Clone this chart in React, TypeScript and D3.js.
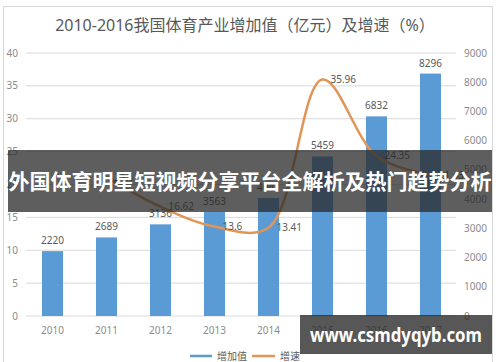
import * as d3 from 'd3'

const years = ['2010', '2011', '2012', '2013', '2014', '2015', '2016', '2017']
const addedValue = [2220, 2689, 3136, 3563, 4041, 5459, 6832, 8296]
const growthRate: (number | null)[] = [null, 21.13, 16.62, 13.6, 13.41, 35.96, 24.35, 21.43]
const leftTicks = [0, 5, 10, 15, 20, 25, 30, 35, 40]
const rightTicks = [0, 1000, 2000, 3000, 4000, 5000, 6000, 7000, 8000, 9000]

const title = '2010-2016我国体育产业增加值（亿元）及增速（%）'
const bannerText = '外国体育明星短视频分享平台全解析及热门趋势分析'
const siteText = 'www.csmdyqyb.com'

const W = 500
const H = 362
const BAR = '#5b9bd5'
const LINE = '#df9656'
const FONT = '"Noto Sans", "Noto Sans CJK SC", sans-serif'

export default function App() {
  const x = d3.scaleBand<string>().domain(years).range([25.5, 457.5]).paddingInner(0.61).paddingOuter(0.305)
  const yL = d3.scaleLinear().domain([0, 40]).range([316, 53])
  const yR = d3.scaleLinear().domain([0, 9000]).range([316, 53])
  const cx = (y: string) => (x(y) ?? 0) + x.bandwidth() / 2

  const pts = years
    .map((y, i) => ({ y, v: growthRate[i] }))
    .filter(d => d.v !== null) as { y: string; v: number }[]

  // excel-style smoothed line
  const line = d3.line<{ y: string; v: number }>()
    .x(d => cx(d.y))
    .y(d => yL(d.v))
    .curve(d3.curveCatmullRom.alpha(0.5))

  return (
    <svg width={W} height={H} style={{ position: 'absolute', left: 0, top: 0 }} fontFamily={FONT}>
      <rect x={0} y={0} width={W} height={H} fill="#fff" />
      <rect x={3.5} y={6.5} width={489} height={360} fill="none" stroke="#d9d9d9" />

      <text x={245} y={31} textAnchor="middle" fontSize={16} fill="#595959">{title}</text>

      {leftTicks.map(t => (
        <g key={t}>
          <line x1={26} x2={456} y1={yL(t)} y2={yL(t)} stroke="#d9d9d9" />
          <text x={18} y={yL(t) + 3.5} textAnchor="end" fontSize={10} fill="#8c8c8c">{t}</text>
        </g>
      ))}
      {rightTicks.map(t => (
        <text key={t} x={464} y={yR(t) + 3.5} fontSize={10} fill="#8c8c8c">{t}</text>
      ))}

      {years.map((y, i) => (
        <g key={y}>
          <rect x={x(y)} y={yR(addedValue[i])} width={x.bandwidth()} height={316 - yR(addedValue[i])} fill={BAR} />
          <text x={cx(y)} y={yR(addedValue[i]) - 7} textAnchor="middle" fontSize={10} fill="#595959">{addedValue[i]}</text>
          <text x={cx(y)} y={334} textAnchor="middle" fontSize={10} fill="#8c8c8c">{y}</text>
        </g>
      ))}

      <path d={line(pts) ?? ''} fill="none" stroke={LINE} strokeWidth={2.5} />
      {pts.map(d => (
        <text key={d.y} x={cx(d.y) + 8} y={yL(d.v) + 3.5} fontSize={10} fill="#595959">{d.v}</text>
      ))}

      <line x1={190} x2={212} y1={356} y2={356} stroke={BAR} strokeWidth={2.5} />
      <text x={217} y={360} fontSize={10} fill="#595959">增加值</text>
      <line x1={252} x2={275} y1={356} y2={356} stroke={LINE} strokeWidth={2.5} />
      <text x={280} y={360} fontSize={10} fill="#595959">增速</text>

      <rect x={8} y={150} width={484} height={62} fill="rgba(40,40,40,0.75)" />
      <text x={250} y={189} textAnchor="middle" fontSize={21} fontWeight="bold" fill="#fff"
        fontFamily='"Noto Sans CJK SC", sans-serif'>{bannerText}</text>

      <rect x={300} y={315} width={192} height={39} fill="rgba(40,40,40,0.78)" />
      <text x={396} y={342} textAnchor="middle" fontSize={20} fontWeight="bold" fill="#fff"
        textLength={172} lengthAdjust="spacingAndGlyphs"
        fontFamily='"Noto Sans", sans-serif'>{siteText}</text>
    </svg>
  )
}
